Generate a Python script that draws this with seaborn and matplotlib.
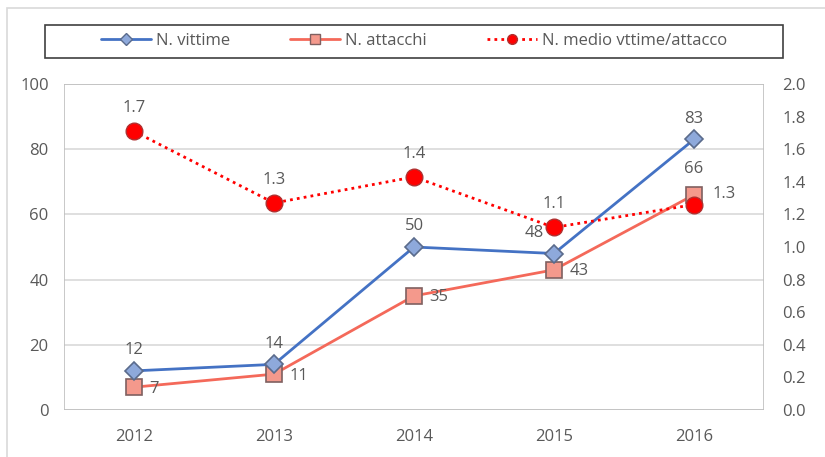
import matplotlib
matplotlib.use("Agg")
import matplotlib.pyplot as plt
from matplotlib.patches import Rectangle
from matplotlib.lines import Line2D
import seaborn as sns
import pandas as pd

years = ["2012", "2013", "2014", "2015", "2016"]
vittime = [12, 14, 50, 48, 83]
attacchi = [7, 11, 35, 43, 66]
medio = [1.71, 1.27, 1.43, 1.12, 1.26]

sns.set_style("white")
plt.rcParams["font.family"] = ["Open Sans", "DejaVu Sans"]
TXT = "#595959"
GRID = "#d9d9d9"

df = pd.DataFrame({"x": range(len(years)), "vittime": vittime,
                   "attacchi": attacchi, "medio": medio})

fig = plt.figure(figsize=(8.25, 4.57), dpi=100)
ax = fig.add_axes([64 / 825, 1 - 410 / 457, 700 / 825, 326 / 457])
ax2 = ax.twinx()

blue = "#4472c4"
salmon = "#f4695a"
red = "#ff0000"

sns.lineplot(data=df, x="x", y="vittime", ax=ax, color=blue, lw=2,
             marker="D", markersize=9, markerfacecolor="#8ea9db",
             markeredgecolor="#5a6b8c", markeredgewidth=1.2, zorder=4)
sns.lineplot(data=df, x="x", y="attacchi", ax=ax, color=salmon, lw=2,
             marker="s", markersize=12, markerfacecolor="#f4998c",
             markeredgecolor="#7f6060", markeredgewidth=1.2, zorder=3)
sns.lineplot(data=df, x="x", y="medio", ax=ax2, color=red, lw=2,
             linestyle=(0, (1, 1.5)), marker="o", markersize=12,
             markerfacecolor=red, markeredgecolor="#b03030",
             markeredgewidth=1.0, zorder=5)

ax.set_xlim(-0.5, len(years) - 0.5)
ax.set_ylim(0, 100)
ax2.set_ylim(0, 2.0)
ax.set_yticks(range(0, 101, 20))
ax2.set_yticks([i / 10 for i in range(0, 21, 2)])
ax2.set_yticklabels([f"{i / 10:.1f}" for i in range(0, 21, 2)])
ax.set_xticks(range(len(years)))
ax.set_xticklabels(years)
ax.set_xlabel("")
ax.set_ylabel("")
ax2.set_ylabel("")

fs = 12
ax.tick_params(axis="y", colors=TXT, labelsize=fs, length=0, pad=11)
ax.tick_params(axis="x", colors=TXT, labelsize=fs, length=0, pad=14)
ax2.tick_params(axis="y", which="both", colors=TXT, labelsize=fs,
                length=0, pad=13, right=True, labelright=True)
for a in (ax, ax2):
    for s in a.spines.values():
        s.set_visible(False)
ax.yaxis.grid(True, color=GRID, lw=1.2)
ax.set_axisbelow(True)
ax.axvline(-0.5, color="#bfbfbf", lw=1.2)
ax.axvline(len(years) - 0.5, color="#bfbfbf", lw=1.2)
ax.axhline(0, color="#bfbfbf", lw=1.2)
ax.axhline(100, color="#bfbfbf", lw=1.2)
ax2.set_zorder(ax.get_zorder() + 1)
ax2.patch.set_visible(False)

# value labels
for i, v in enumerate(vittime):
    dx = -14 if i == 3 else 0
    ax.annotate(str(v), (i, v), xytext=(dx, 9), textcoords="offset points",
                ha="center", va="bottom", color=TXT, fontsize=fs)
for i, v in enumerate(attacchi):
    if i == 4:
        ax.annotate(str(v), (i, v), xytext=(0, 13), textcoords="offset points",
                    ha="center", va="bottom", color=TXT, fontsize=fs)
    else:
        ax.annotate(str(v), (i, v), xytext=(11, -1), textcoords="offset points",
                    ha="left", va="center", color=TXT, fontsize=fs)
for i, v in enumerate(medio):
    if i == 4:
        ax2.annotate(f"{v:.1f}", (i, v), xytext=(13, 2), textcoords="offset points",
                     ha="left", va="bottom", color=TXT, fontsize=fs)
    else:
        ax2.annotate(f"{v:.1f}", (i, v), xytext=(0, 11), textcoords="offset points",
                     ha="center", va="bottom", color=TXT, fontsize=fs)

# legend (entries without their own frame; the box is drawn separately)
handles = [
    Line2D([], [], color=blue, lw=2, marker="D", markersize=6,
           markerfacecolor="#8ea9db", markeredgecolor="#5a6b8c"),
    Line2D([], [], color=salmon, lw=2, marker="s", markersize=7,
           markerfacecolor="#f4998c", markeredgecolor="#7f6060"),
    Line2D([], [], color=red, lw=2, linestyle=(0, (1, 1.5)), marker="o",
           markersize=7, markerfacecolor=red, markeredgecolor="#b03030"),
]
labels = ["N. vittime", "N. attacchi", "N. medio vttime/attacco"]
fig.legend(handles, labels, loc="center", ncol=3,
           bbox_to_anchor=(414 / 825, 1 - 41 / 457), frameon=False,
           fontsize=fs, handlelength=3.0, columnspacing=3.6,
           borderaxespad=0, labelcolor=TXT, handletextpad=0.3)
fig.add_artist(Rectangle((45 / 825, 1 - 58 / 457), 738 / 825, 33 / 457,
                         transform=fig.transFigure, fill=False,
                         edgecolor="#404040", lw=1.2))

# outer chart frame
fig.add_artist(Rectangle((7 / 825, -0.05), 1.1, 1 - 8 / 457 + 0.05,
                         transform=fig.transFigure, fill=False,
                         edgecolor="#d9d9d9", lw=1.2))

fig.savefig("out.png", dpi=100)
